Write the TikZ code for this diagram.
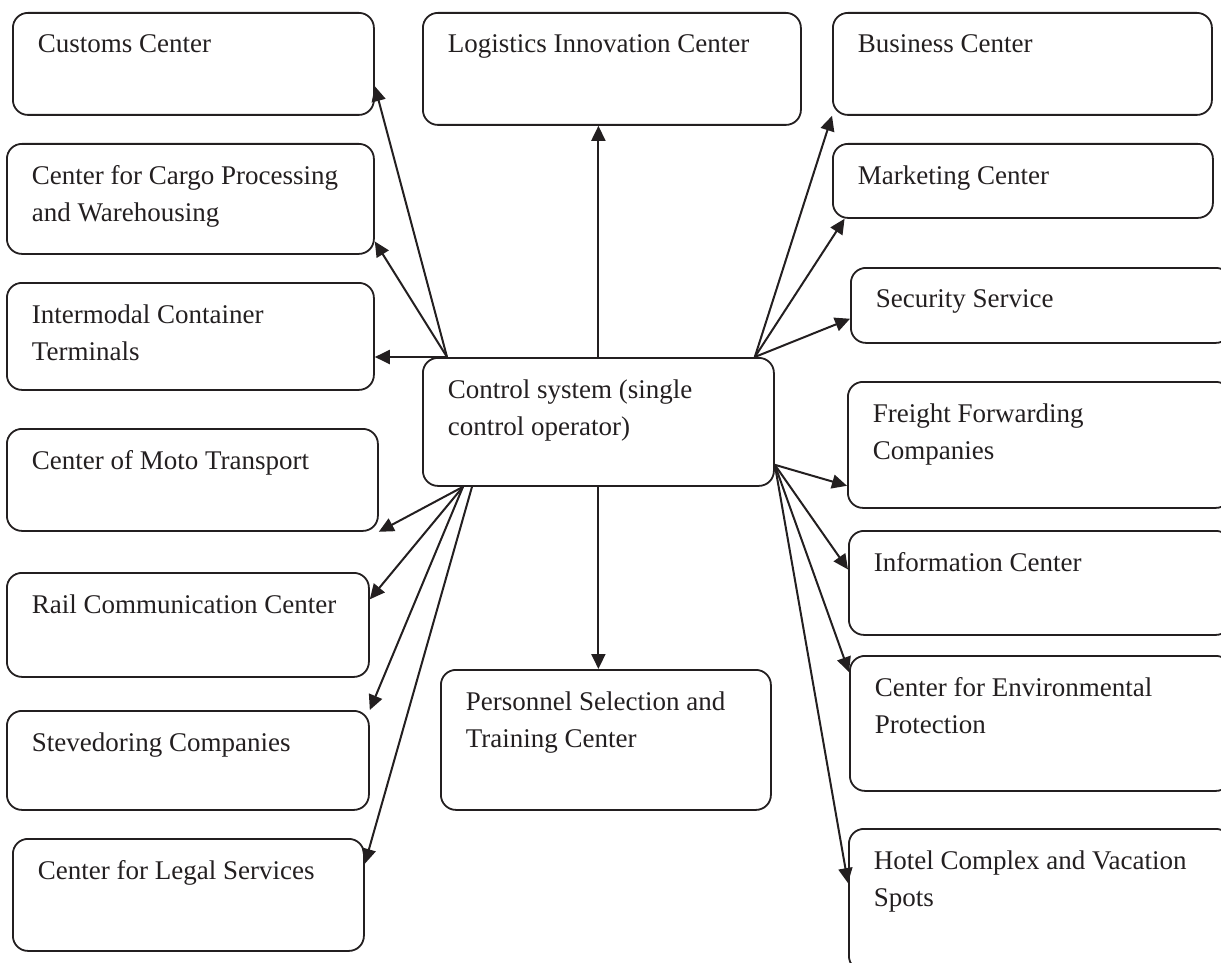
\documentclass[tikz,border=0pt]{standalone}
\usepackage{fontspec}
\setmainfont{Liberation Serif}
\usepackage{tikz}
\usetikzlibrary{arrows.meta}
\definecolor{ink}{RGB}{35,31,32}
% box text: full width, full height, lines
\newcommand{\boxtext}[3]{\parbox[t][\dimexpr#2pt-44pt\relax][t]{\dimexpr#1pt-50pt\relax}{\raggedright #3}}
\tikzset{
  box/.style={rectangle, draw=ink, text=ink, anchor=north west,
    rounded corners=15pt, line width=1.8pt, inner xsep=25pt, inner ysep=22pt,
    font=\fontsize{27}{36.7}\selectfont},
  arrow/.style={-{Triangle[length=15pt,width=14pt]}, line width=2pt, color=ink}
}

\begin{document}
\begin{tikzpicture}[x=1pt, y=-1pt]
  \useasboundingbox (0,0) rectangle (1221,963);
  \clip (0,0) rectangle (1221,963);
  % left column
  \node[box] (cus) at (12,12) {\boxtext{361}{102}{Customs Center}};
  \node[box] (cgo) at (6,143) {\boxtext{367}{110}{Center for Cargo Processing\\ and Warehousing}};
  \node[box] (imc) at (6,282) {\boxtext{367}{107}{Intermodal Container\\ Terminals}};
  \node[box] (mto) at (6,428) {\boxtext{371}{102}{Center of Moto Transport}};
  \node[box] (rail) at (6,572) {\boxtext{362}{104}{Rail Communication Center}};
  \node[box] (stv) at (6,710) {\boxtext{362}{99}{Stevedoring Companies}};
  \node[box] (lgl) at (12,838) {\boxtext{351}{112}{Center for Legal Services}};
  % middle column
  \node[box] (lic) at (422,12) {\boxtext{378}{112}{Logistics Innovation Center}};
  \node[box] (ctl) at (422,357) {\boxtext{351}{128}{Control system (single\\ control operator)}};
  \node[box] (pst) at (440,669) {\boxtext{330}{140}{Personnel Selection and\\ Training Center}};
  % right column
  \node[box] (bus) at (832,12) {\boxtext{379}{102}{Business Center}};
  \node[box] (mkt) at (832,143) {\boxtext{380}{74}{Marketing Center}};
  \node[box] (sec) at (850,267) {\boxtext{380}{75}{Security Service}};
  \node[box] (frt) at (847,381) {\boxtext{383}{126}{Freight Forwarding\\ Companies}};
  \node[box] (inf) at (848,530) {\boxtext{382}{104}{Information Center}};
  \node[box] (env) at (849,655) {\boxtext{381}{135}{Center for Environmental\\ Protection}};
  \node[box] (htl) at (848,828) {\boxtext{382}{142}{Hotel Complex and Vacation\\ Spots}};
  % fan-out points on the control box
  \coordinate (ctlNW) at ([xshift=25pt]ctl.north west);
  \coordinate (ctlNE) at ([xshift=-20pt]ctl.north east);
  \coordinate (ctlSE) at ([yshift=22pt]ctl.south east);
  \coordinate (ctlSA) at ([xshift=41pt]ctl.south west);
  \coordinate (ctlSB) at ([xshift=50pt]ctl.south west);
  % upper left
  \draw[arrow] (ctlNW) -- (cus.-7);
  \draw[arrow] (ctlNW) -- (cgo.-13);
  \draw[arrow] (ctlNW) -- (ctlNW -| imc.east);
  % up and down
  \draw[arrow] (ctl.north) -- (ctl.north |- lic.south);
  \draw[arrow] (ctl.south) -- (ctl.south |- pst.north);
  % upper right
  \draw[arrow] (ctlNE) -- (bus.south west);
  \draw[arrow] (ctlNE) -- (mkt.-168);
  \draw[arrow] (ctlNE) -- (sec.-176);
  % lower right
  \draw[arrow] (ctlSE) -- (frt.-168);
  \draw[arrow] (ctlSE) -- (inf.176);
  \draw[arrow] (ctlSE) -- (env.165);
  \draw[arrow] (ctlSE) -- (htl.175);
  % lower left
  \draw[arrow] (ctlSA) -- (mto.south east);
  \draw[arrow] (ctlSA) -- (rail.8);
  \draw[arrow] (ctlSA) -- (stv.north east);
  \draw[arrow] (ctlSB) -- (lgl.10);
\end{tikzpicture}
\end{document}
